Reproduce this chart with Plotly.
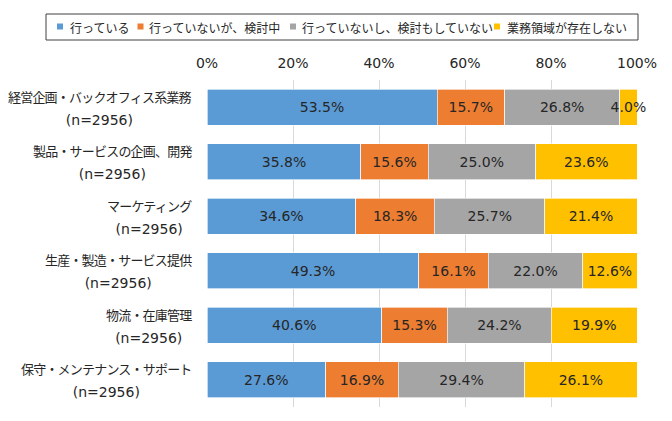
import plotly.graph_objects as go

categories = [
    "経営企画・バックオフィス系業務",
    "製品・サービスの企画、開発",
    "マーケティング",
    "生産・製造・サービス提供",
    "物流・在庫管理",
    "保守・メンテナンス・サポート",
]
n_labels = ["(n=2956)"] * 6

series_names = ["行っている", "行っていないが、検討中", "行っていないし、検討もしていない", "業務領域が存在しない"]
doing = [53.5, 35.8, 34.6, 49.3, 40.6, 27.6]
considering = [15.7, 15.6, 18.3, 16.1, 15.3, 16.9]
not_considering = [26.8, 25.0, 25.7, 22.0, 24.2, 29.4]
no_area = [4.0, 23.6, 21.4, 12.6, 19.9, 26.1]
series_values = [doing, considering, not_considering, no_area]
colors = ["#5B9BD5", "#ED7D31", "#A5A5A5", "#FFC000"]

tick_vals = [0, 20, 40, 60, 80, 100]
tick_text = ["0%", "20%", "40%", "60%", "80%", "100%"]

# page body has an 8px default margin; figure is sized to compensate
OFF = 8
W, H = 656, 405
PL, PR, PT, PB = 207, 637, 80, 407          # plot area in window pixels
ML, MR, MT, MB = PL - OFF, OFF + W - PR, PT - OFF, OFF + H - PB
PW, PH = PR - PL, PB - PT

def px_x(p):
    return (p - PL) / PW

def px_y(p):
    return (PB - p) / PH

TXT = "#262626"
LAT = "DejaVu Sans, Noto Sans CJK JP"
CJK = "Noto Sans CJK JP"

fig = go.Figure()
for name, vals, col in zip(series_names, series_values, colors):
    fig.add_trace(go.Bar(
        y=categories, x=vals, name=name, orientation="h",
        marker=dict(color=col, line=dict(color="rgba(255,255,255,0.8)", width=0.8)),
        text=[f"{v:.1f}%" for v in vals], textposition="inside",
        insidetextanchor="middle", textangle=0, constraintext="none",
        cliponaxis=False,
        textfont=dict(family=LAT, size=14, color=TXT),
        showlegend=False, hoverinfo="skip",
    ))

annotations = []
for cat, n in zip(categories, n_labels):
    annotations.append(dict(
        xref="paper", yref="y", x=0, y=cat, xanchor="right", yanchor="middle",
        xshift=-13, align="center", showarrow=False,
        font=dict(family=LAT, size=18, color=TXT),
        text=(f'<span style="font-size:13px;letter-spacing:-0.8px;font-family:{CJK}">{cat}</span>'
              f'<br><span style="font-size:14px">{n}</span>'),
    ))

# legend (manual, matching reference layout)
shapes = [dict(type="rect", xref="paper", yref="paper",
               x0=px_x(46), x1=px_x(638), y0=px_y(40), y1=px_y(14),
               line=dict(color="#404040", width=1), fillcolor="white", layer="below")]
sq_x = [57, 137.5, 290, 494]
txt_x = [68, 146.5, 299.5, 504.5]
for name, col, sx, tx in zip(series_names, colors, sq_x, txt_x):
    shapes.append(dict(type="rect", xref="paper", yref="paper",
                       x0=px_x(sx), x1=px_x(sx + 6), y0=px_y(29.5), y1=px_y(23.5),
                       line=dict(width=0), fillcolor=col))
    annotations.append(dict(xref="paper", yref="paper", x=px_x(tx), y=px_y(27),
                            xanchor="left", yanchor="middle", showarrow=False,
                            text=name, font=dict(family=CJK, size=12, color=TXT)))

fig.update_layout(
    width=W, height=H, barmode="stack", bargap=0.34,
    margin=dict(l=ML, r=MR, t=MT, b=MB),
    paper_bgcolor="white", plot_bgcolor="white",
    showlegend=False, annotations=annotations, shapes=shapes,
    xaxis=dict(side="top", range=[0, 100], tickvals=tick_vals, ticktext=tick_text,
               showgrid=True, gridcolor="#D9D9D9", gridwidth=1, zeroline=False,
               showline=False, ticks="", ticklabelstandoff=8,
               tickfont=dict(family=LAT, size=14, color=TXT), fixedrange=True),
    yaxis=dict(autorange="reversed", showticklabels=False, showgrid=False,
               zeroline=False, showline=False, ticks="", fixedrange=True),
)

fig.write_html("out.html")
